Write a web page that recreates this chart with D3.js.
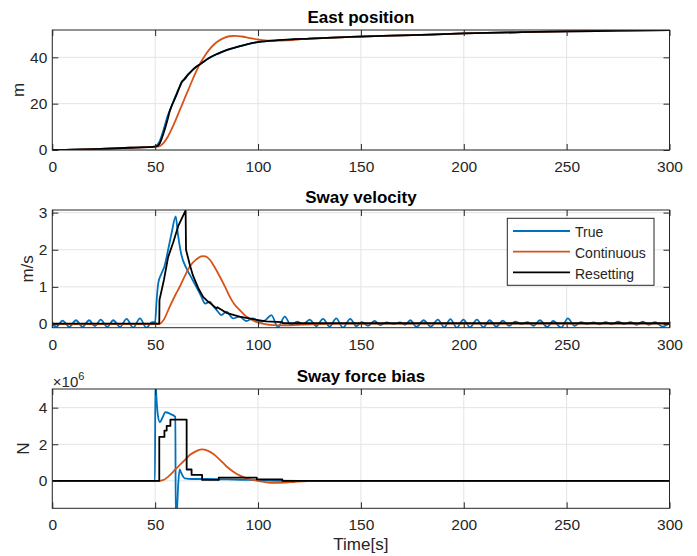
<!DOCTYPE html>
<html><head><meta charset="utf-8">
<script src="https://cdn.jsdelivr.net/npm/d3@7"></script>
<style>
body{margin:0;background:#fff}
svg text{font-family:"Liberation Sans",Arial,Helvetica,sans-serif;fill:#262626}
</style>
</head><body>
<svg id="chart" width="697" height="556"></svg>
<script>
// ---------------- data ----------------
const seriesNames = ["True", "Continuous", "Resetting"];
const seriesColors = ["#0072BD", "#D95319", "#000000"];
const xTicks = [0, 50, 100, 150, 200, 250, 300];
const eastTicks = [0, 20, 40];
const swayVelTicks = [0, 1, 2, 3];
const forceTicks = [0, 2e6, 4e6];

// East position [time s, metres]
const eastTrue = [[0,0],[10,0.15],[20,0.4],[30,0.7],[40,1.05],[50,1.45],[51,2.2],[52,3.5],[54,8.5],[56,14.5],[58,19],[60,23.5],[62,27.5],[64,30.5],[66,32.6],[68,34.4],[70,35.9],[72,37.1],[76,39.6],[80,41.4],[85,43.2],[90,44.5],[95,45.7],[100,46.6],[110,47.4],[125,48.1],[145,48.8],[175,49.6],[200,50.3],[225,50.8],[250,51.2],[275,51.5],[300,51.8]];
const eastCont = [[0,0],[10,0.15],[20,0.4],[30,0.7],[40,1.05],[50,1.45],[52,1.6],[54,3],[56,5.5],[58,9],[60,13],[62,17.3],[64,21.5],[66,25.8],[68,30],[70,34],[72,37.6],[74,40.5],[76,43],[78,45],[80,46.6],[83,48.2],[86,49.1],[89,49.3],[92,49],[96,48.3],[100,47.7],[105,47.2],[110,47.2],[125,48.1],[145,48.8],[175,49.6],[200,50.3],[225,50.8],[250,51.2],[275,51.5],[300,51.8]];
const eastReset = [[0,0],[10,0.15],[20,0.4],[30,0.7],[40,1.05],[50,1.45],[51,1.7],[52,2.5],[54,7],[56,13],[57,16.5],[58,19],[60,23],[62,27.5],[63,29.6],[64,30.3],[66,32.5],[68,34.4],[70,35.9],[72,37.1],[76,39.6],[80,41.4],[85,43.2],[90,44.5],[95,45.7],[100,46.6],[110,47.4],[125,48.1],[145,48.8],[175,49.6],[200,50.3],[225,50.8],[250,51.2],[275,51.5],[300,51.8]];

// Sway velocity [time s, m/s]
const velTrue = [[0,0],[2,-0.07],[5,0.09],[8.3,-0.08],[11.5,0.1],[14.7,-0.08],[17.9,0.1],[20.7,-0.06],[23.5,0.12],[26.7,-0.08],[29.6,0.1],[32.9,-0.08],[36.1,0.14],[39.3,-0.1],[42.6,0.15],[45.7,-0.1],[48.5,0.05],[50,0.05],[50.6,0.55],[51.5,1.1],[53,1.35],[54.5,1.55],[56.3,2.0],[58,2.45],[60,2.9],[61,2.45],[62.8,1.85],[65.2,1.5],[67.6,1.25],[70,1.0],[72.5,0.73],[74.3,0.55],[76.6,0.6],[78,0.5],[79.8,0.38],[82.2,0.24],[84.6,0.33],[87.9,0.15],[91,0.2],[94.3,0.08],[97.5,0.15],[100.7,0.06],[103.3,0.09],[106.5,0.24],[109.7,-0.09],[113,0.2],[116,-0.03],[119,0.06],[122,-0.01],[125.1,0.12],[128.3,-0.06],[131.6,0.14],[134.8,-0.07],[138,0.15],[141.3,-0.1],[144.8,0.14],[147.8,-0.06],[150.5,0.05],[153.5,-0.05],[156.6,0.08],[159.5,-0.03],[162.5,0.04],[166,0.0],[169,0.04],[171.5,-0.02],[174,0.1],[177,-0.08],[180.5,0.1],[184,-0.07],[187.4,0.12],[190.5,-0.09],[193.5,0.13],[196.6,-0.1],[199.8,0.12],[203,-0.09],[206.4,0.12],[209.5,-0.09],[212.6,0.1],[215.8,-0.07],[219,0.09],[222,-0.05],[225,0.06],[228,0.0],[231,0.05],[234,-0.05],[237,0.1],[240.5,-0.08],[243.5,0.08],[247.3,-0.1],[250.6,0.15],[253.8,-0.05],[257,0.05],[260,0.0],[263,0.04],[266,-0.01],[269,0.05],[272,-0.01],[275,0.06],[278,0.0],[281,0.05],[284,-0.02],[287,0.06],[290,-0.02],[293,0.05],[296.6,-0.07],[300,0.02]];
const velCont = [[0,0],[52,0],[54,0.1],[57.1,0.47],[60,0.8],[62,1.01],[64.5,1.3],[66.8,1.55],[70,1.74],[72.9,1.83],[74.5,1.82],[76.6,1.73],[79,1.52],[81.4,1.28],[84,1.0],[86.3,0.73],[88.5,0.53],[91,0.38],[93.5,0.24],[95.9,0.15],[98,0.08],[100.7,0.03],[104,-0.01],[107,-0.03],[113.5,-0.04],[120,-0.02],[128,0.0],[140,0.01],[300,0.01]];
const velReset = [[0,0.01],[52,0.01],[52.1,0.65],[54.3,1.2],[56.3,1.8],[58.8,2.2],[61.3,2.65],[64.8,3.06],[65,2.0],[66.8,1.6],[68.4,1.3],[70.9,0.97],[73.3,0.73],[75.7,0.6],[77,0.55],[79.8,0.42],[80.2,0.45],[84.6,0.3],[91,0.2],[97.5,0.13],[103.9,0.07],[111.8,0.05],[112,0.02],[300,0.02]];

// Sway force bias [time s, N]
const forceTrue = [[0,0],[49.9,0],[50.1,5.6e6],[50.6,4.6e6],[51.3,3.6e6],[52.3,3.2e6],[53.5,3.45e6],[55,3.75e6],[57.5,3.65e6],[59.8,3.5e6],[60,-2.0e6],[60.6,-1.6e6],[61.2,-0.2e6],[61.9,0.62e6],[62.8,0.4e6],[64.5,0.13e6],[68,0.1e6],[75,0.1e6],[85,0.08e6],[95,0.05e6],[105,0.02e6],[120,0],[300,0]];
const forceCont = [[0,0],[52,0],[54,0.05e6],[57.1,0.31e6],[60,0.65e6],[62,0.87e6],[64.5,1.15e6],[66.8,1.41e6],[69.5,1.6e6],[72.6,1.72e6],[75.5,1.65e6],[78.5,1.45e6],[81.5,1.15e6],[84.6,0.8e6],[88,0.5e6],[91,0.3e6],[94.5,0.14e6],[97.5,0.05e6],[100,0],[104,-0.08e6],[108,-0.11e6],[113,-0.1e6],[118,-0.05e6],[124,-0.02e6],[135,0],[300,0]];
const forceReset = [[0,0],[52,2.4e6],[54.5,2.75e6],[55.6,3.0e6],[57.4,3.35e6],[65.3,0.62e6],[67.7,0.33e6],[72.8,0.05e6],[80.9,0.18e6],[99.4,0.08e6],[111.8,0],[300,0]];

// ---------------- layout ----------------
const svg = d3.select("#chart");
const left = 52.3, right = 669.5;
const x = d3.scaleLinear().domain([0, 300]).range([left, right]);
const textCol = "#262626";

const panels = [
  {title: "East position", titleY: 22.7, ylabel: "m", ylabX: 24, top: 30, bottom: 150, ydom: [0, 51.8], yticks: eastTicks, fmt: d => d,
   series: [[eastTrue, d3.curveMonotoneX], [eastCont, d3.curveMonotoneX], [eastReset, d3.curveMonotoneX]]},
  {title: "Sway velocity", titleY: 203.4, ylabel: "m/s", ylabX: 32.5, top: 210, bottom: 327.7, ydom: [-0.1, 3.07], yticks: swayVelTicks, fmt: d => d,
   series: [[velTrue, d3.curveMonotoneX], [velCont, d3.curveMonotoneX], [velReset, d3.curveLinear]], legend: true},
  {title: "Sway force bias", titleY: 381.7, ylabel: "N", ylabX: 28.5, top: 389, bottom: 508.3, ydom: [-1.5e6, 5.02e6], yticks: forceTicks, fmt: d => d / 1e6,
   series: [[forceTrue, d3.curveMonotoneX], [forceCont, d3.curveMonotoneX], [forceReset, d3.curveStepAfter]], exponent: true}
];

panels.forEach((p, i) => {
  const y = d3.scaleLinear().domain(p.ydom).range([p.bottom, p.top]);
  const g = svg.append("g");
  const clipId = "clip" + i;
  svg.append("clipPath").attr("id", clipId).append("rect")
    .attr("x", left).attr("y", p.top).attr("width", right - left).attr("height", p.bottom - p.top);

  // grid
  g.append("g").selectAll("line").data(xTicks).join("line")
    .attr("x1", d => x(d)).attr("x2", d => x(d)).attr("y1", p.top).attr("y2", p.bottom)
    .attr("stroke", "#e4e4e4").attr("stroke-width", 1);
  g.append("g").selectAll("line").data(p.yticks).join("line")
    .attr("x1", left).attr("x2", right).attr("y1", d => y(d)).attr("y2", d => y(d))
    .attr("stroke", "#e4e4e4").attr("stroke-width", 1);

  // series
  const lg = g.append("g").attr("clip-path", `url(#${clipId})`);
  p.series.forEach(([data, curve], k) => {
    lg.append("path").datum(data)
      .attr("fill", "none").attr("stroke", seriesColors[k]).attr("stroke-width", 1.8)
      .attr("stroke-linejoin", "round")
      .attr("d", d3.line().x(d => x(d[0])).y(d => y(d[1])).curve(curve));
  });

  // axes (ticks inward)
  const styleAxis = sel => {
    sel.select(".domain").remove();
    sel.selectAll(".tick line").attr("stroke", textCol).attr("stroke-width", 1);
    sel.selectAll(".tick text").attr("fill", textCol).style("font-size", "15.5px")
      .style("font-family", '"Liberation Sans", Arial, sans-serif');
  };
  g.append("g").attr("transform", `translate(0,${p.bottom})`)
    .call(d3.axisBottom(x).tickValues(xTicks).tickSizeInner(-6).tickSizeOuter(0).tickPadding(11))
    .call(styleAxis);
  g.append("g").attr("transform", `translate(0,${p.top})`)
    .call(d3.axisTop(x).tickValues(xTicks).tickSizeInner(-6).tickSizeOuter(0).tickFormat(""))
    .call(styleAxis);
  g.append("g").attr("transform", `translate(${left},0)`)
    .call(d3.axisLeft(y).tickValues(p.yticks).tickSizeInner(-6).tickSizeOuter(0).tickPadding(5).tickFormat(p.fmt))
    .call(styleAxis);
  g.append("g").attr("transform", `translate(${right},0)`)
    .call(d3.axisRight(y).tickValues(p.yticks).tickSizeInner(-6).tickSizeOuter(0).tickFormat(""))
    .call(styleAxis);

  // frame
  g.append("rect").attr("x", left).attr("y", p.top).attr("width", right - left).attr("height", p.bottom - p.top)
    .attr("fill", "none").attr("stroke", textCol).attr("stroke-width", 1);

  // title
  g.append("text").attr("x", (left + right) / 2).attr("y", p.titleY).attr("text-anchor", "middle")
    .style("font-size", "17px").style("font-weight", "bold").attr("fill", "#000").style("fill", "#000").text(p.title);

  // y label
  g.append("text").attr("transform", `translate(${p.ylabX},${(p.top + p.bottom) / 2}) rotate(-90)`)
    .attr("text-anchor", "middle").style("font-size", "17px").text(p.ylabel);

  if (p.exponent) {
    const t = g.append("text").attr("x", left + 0.5).attr("y", p.top - 2.5).style("font-size", "15px");
    t.append("tspan").text("\u00d710");
    t.append("tspan").attr("dy", -7).style("font-size", "11px").text("6");
  }

  if (p.legend) {
    const lx = 507.3, ly = 218.3, lw = 146.7, lh = 67;
    const L = g.append("g");
    L.append("rect").attr("x", lx).attr("y", ly).attr("width", lw).attr("height", lh)
      .attr("fill", "#fff").attr("stroke", textCol).attr("stroke-width", 1);
    seriesNames.forEach((name, k) => {
      const cy = 231 + k * 20.7;
      L.append("line").attr("x1", 513).attr("x2", 570).attr("y1", cy).attr("y2", cy)
        .attr("stroke", seriesColors[k]).attr("stroke-width", 1.8);
      L.append("text").attr("x", 575).attr("y", cy + 6.3).style("font-size", "14px").text(name);
    });
  }
});

// x label
svg.append("text").attr("x", (left + right) / 2).attr("y", 550).attr("text-anchor", "middle")
  .style("font-size", "17px").text("Time[s]");
</script>
</body></html>
